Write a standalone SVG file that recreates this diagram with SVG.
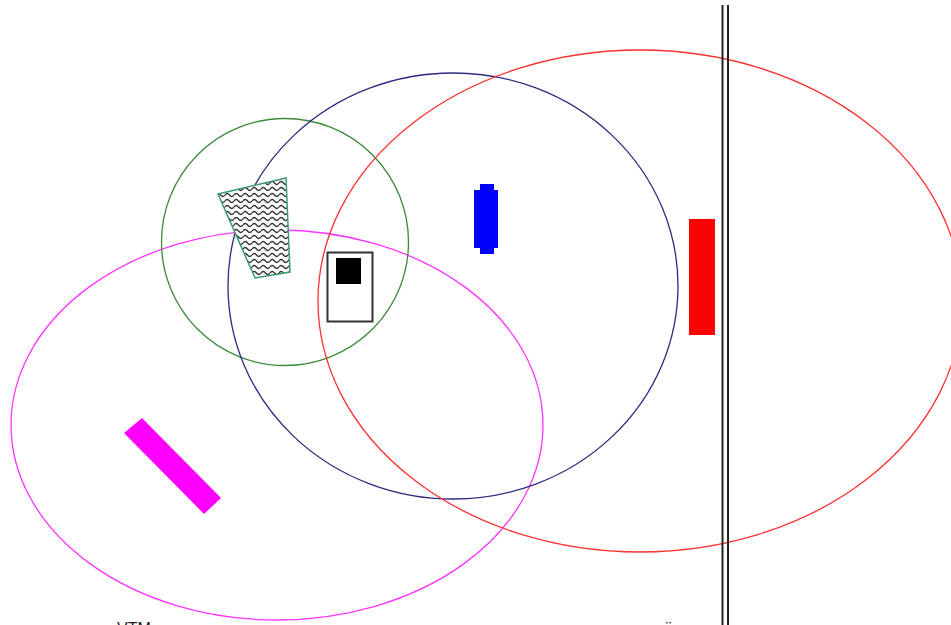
<svg xmlns="http://www.w3.org/2000/svg" width="951" height="625" viewBox="0 0 951 625">
<style>
.ring{fill:none;stroke-width:1.3}
.txt{font-family:"Liberation Sans",Arial,sans-serif;font-size:16px;fill:#222}
</style>
<defs>
<pattern id="wave" width="9" height="6" patternUnits="userSpaceOnUse">
<path d="M0,3 Q2.25,0 4.5,3 T9,3" fill="none" stroke="#333" stroke-width="1.4"/>
</pattern>
</defs>
<rect width="951" height="625" fill="#fff"/>
<g id="ranges">
<ellipse id="magenta-range" class="ring" cx="277" cy="425" rx="266" ry="195" stroke="#ff33ff"/>
<circle id="green-range" class="ring" cx="285" cy="242" r="123.5" stroke="#3a8a3a"/>
<ellipse id="navy-range" class="ring" cx="453" cy="286" rx="225" ry="213" stroke="#2a2a80"/>
<ellipse id="red-range" class="ring" cx="640" cy="301" rx="322" ry="251" stroke="#ff3030"/>
</g>
<g id="wall">
<line x1="722.5" y1="5" x2="722.5" y2="625" stroke="#222" stroke-width="2"/>
<line x1="728" y1="5" x2="728" y2="625" stroke="#222" stroke-width="2"/>
</g>
<g id="trapezoid">
<polygon points="218,194 286,178 290,272 255,278" fill="#fff"/>
<polygon points="218,194 286,178 290,272 255,278" fill="url(#wave)" stroke="#3c9a70" stroke-width="1.5"/>
</g>
<g id="box">
<rect x="327.5" y="252.5" width="45" height="69" fill="#fff" stroke="#333" stroke-width="2"/>
<rect x="336" y="258" width="25" height="26" fill="#000"/>
</g>
<g id="blue-shape">
<rect x="474" y="190" width="24" height="58" fill="#0000ff"/>
<rect x="480" y="184" width="14" height="70" fill="#0000ff"/>
</g>
<g id="red-bar">
<rect x="689" y="219" width="26" height="116" fill="#ff0000"/>
</g>
<g id="magenta-bar">
<polygon points="124,433 142,418 221,498 204,514" fill="#ff00ff"/>
</g>
<g id="labels">
<text class="txt" x="117" y="634">VTM</text>
<text class="txt" x="664" y="634">ü</text>
</g>
</svg>
